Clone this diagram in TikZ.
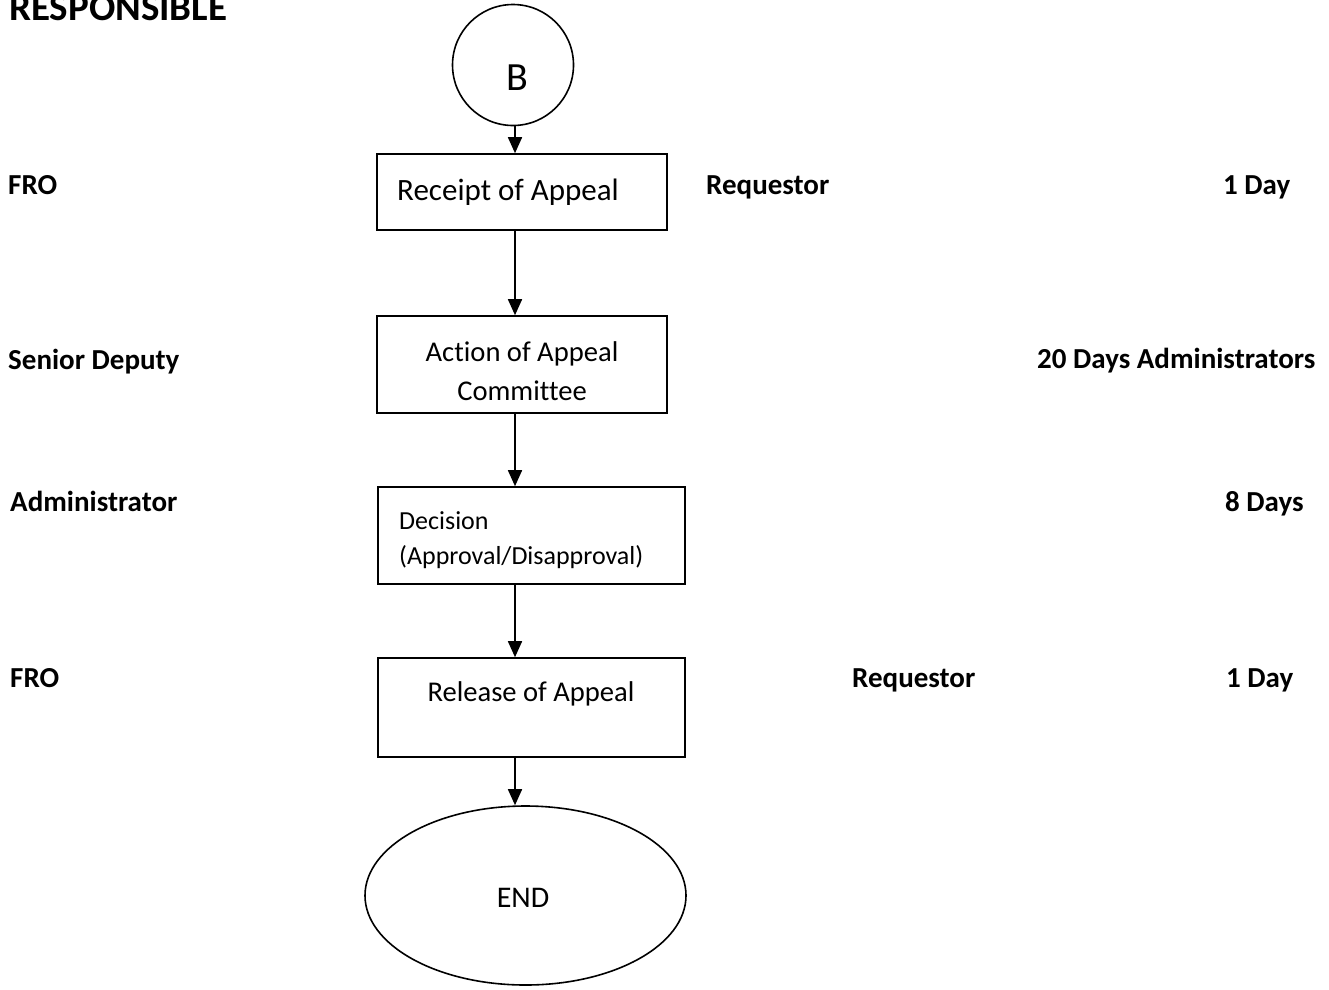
\documentclass[tikz,border=0pt]{standalone}
\usepackage{fontspec}
\setmainfont{Carlito}[Ligatures=NoCommon]
\usetikzlibrary{arrows.meta,shapes.geometric}
\begin{document}
\begin{tikzpicture}[x=1pt,y=-1pt,
  stepbox/.style={draw,line width=1.6pt,rectangle,inner sep=0pt},
  flow/.style={draw,line width=1.6pt,-{Triangle[length=16pt,width=14pt]}},
  lbl/.style={font=\fontsize{29}{33}\selectfont\bfseries,anchor=base west,inner sep=0pt},
  boxtxt/.style={inner sep=0pt,anchor=base}]
\useasboundingbox (0,0) rectangle (1329,989);
\coordinate (spine) at (515,0);

% header
\node[font=\fontsize{39}{43}\selectfont\bfseries,anchor=base west,inner sep=0pt] (hdr) at (9,20) {RESPONSIBLE};

% connector circle
\node[draw,circle,line width=1.6pt,minimum size=121pt,inner sep=0pt] (B) at (513,65) {};
\node[inner sep=0pt,anchor=base,font=\fontsize{40}{44}\selectfont] (Bt) at (517,90) {B};

% process boxes
\node[stepbox,minimum width=290pt,minimum height=76pt] (b1) at (522,192) {};
\node[boxtxt,anchor=base west,font=\fontsize{31}{35}\selectfont] (b1t) at (397,200) {Receipt of Appeal};

\node[stepbox,minimum width=290pt,minimum height=97pt] (b2) at (522,364.5) {};
\node[boxtxt,font=\fontsize{28.6}{32}\selectfont] (b2t1) at (522,361) {Action of Appeal};
\node[boxtxt,font=\fontsize{28.6}{32}\selectfont] (b2t2) at (522,400) {Committee};

\node[stepbox,minimum width=307pt,minimum height=97pt] (b3) at (531.5,535.5) {};
\node[boxtxt,anchor=base west,font=\fontsize{26}{30}\selectfont] (b3t1) at (399,529) {Decision};
\node[boxtxt,anchor=base west,font=\fontsize{26}{30}\selectfont] (b3t2) at (399,564) {(Approval/Disapproval)};

\node[stepbox,minimum width=307pt,minimum height=99pt] (b4) at (531.5,707.5) {};
\node[boxtxt,font=\fontsize{28.6}{32}\selectfont] (b4t) at (531,701) {Release of Appeal};

% terminator
\node[draw,ellipse,line width=1.6pt,minimum width=321pt,minimum height=179pt,inner sep=0pt] (E) at (525.5,895.5) {};
\node[boxtxt,font=\fontsize{30}{34}\selectfont] (Et) at (523,907) {END};

% flow connectors
\draw[flow] (spine |- B.south) -- (spine |- b1.north);
\draw[flow] (spine |- b1.south) -- (spine |- b2.north);
\draw[flow] (spine |- b2.south) -- (spine |- b3.north);
\draw[flow] (spine |- b3.south) -- (spine |- b4.north);
\draw[flow] (spine |- b4.south) -- (spine |- E.north);

% responsible parties and durations
\node[lbl] (r1) at (8,194) {FRO};
\node[lbl] (q1) at (706,194) {Requestor};
\node[lbl] (d1) at (1223,194) {1 Day};

\node[lbl] (r2) at (8,369) {Senior Deputy};
\node[lbl] (d2) at (1037,368) {20 Days Administrators};

\node[lbl] (r3) at (10,511) {Administrator};
\node[lbl] (d3) at (1225,511) {8 Days};

\node[lbl] (r4) at (10,687) {FRO};
\node[lbl] (q4) at (852,687) {Requestor};
\node[lbl] (d4) at (1226,687) {1 Day};
\end{tikzpicture}
\end{document}
